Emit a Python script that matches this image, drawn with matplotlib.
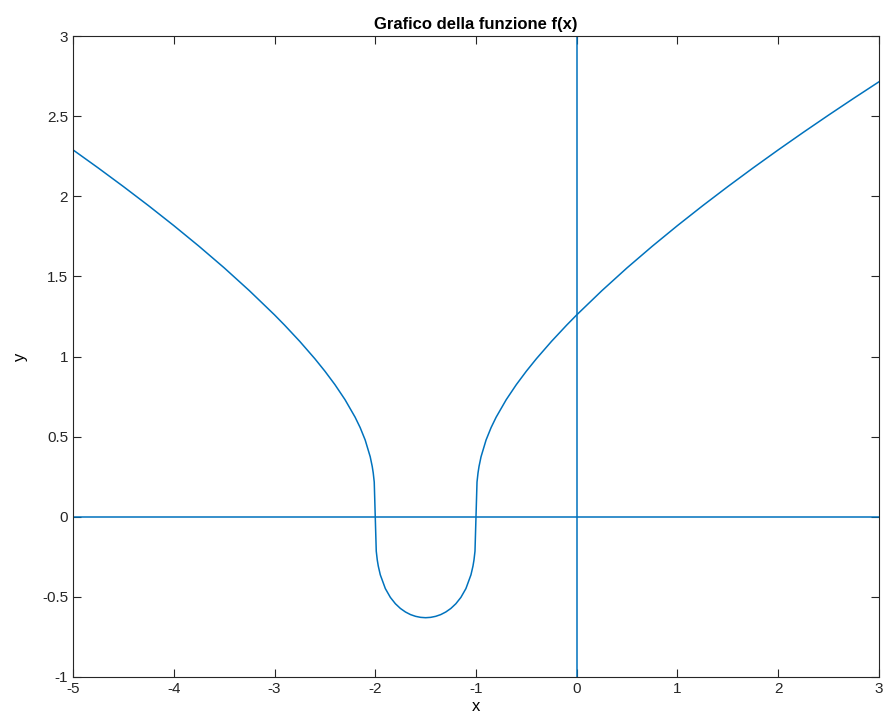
import matplotlib.pyplot as plt

plt.rcParams["font.family"] = ["Liberation Sans", "DejaVu Sans"]
plt.rcParams["axes.unicode_minus"] = False

# points
x_vals = [-5, -4.75, -4.5, -4.25, -4, -3.75, -3.5, -3.25, -3, -2.9, -2.75, -2.6, -2.5,
          -2.4, -2.3, -2.2, -2.15, -2.1, -2.05, -2.03, -2.02, -2.01, -1.99, -1.98, -1.97,
          -1.95, -1.9, -1.85, -1.8, -1.75, -1.7, -1.65, -1.6, -1.55, -1.5, -1.45, -1.4,
          -1.35, -1.3, -1.25, -1.2, -1.15, -1.1, -1.05, -1.03, -1.02, -1.01, -0.99, -0.98,
          -0.97, -0.95, -0.9, -0.85, -0.8, -0.7, -0.6, -0.5, -0.4, -0.25, -0.1, 0, 0.25,
          0.5, 0.75, 1, 1.25, 1.5, 1.75, 2, 2.25, 2.5, 2.75, 3]
y_vals = [2.2894, 2.1767, 2.0606, 1.9410, 1.8171, 1.6883, 1.5536, 1.4111, 1.2599, 1.1958,
          1.0949, 0.9865, 0.9086, 0.8243, 0.7306, 0.6214, 0.5567, 0.4791, 0.3744, 0.3138,
          0.2733, 0.2162, -0.2147, -0.2696, -0.3076, -0.3622, -0.4481, -0.5032, -0.5429,
          -0.5724, -0.5944, -0.6106, -0.6214, -0.6278, -0.6300, -0.6278, -0.6214, -0.6106,
          -0.5944, -0.5724, -0.5429, -0.5032, -0.4481, -0.3622, -0.3076, -0.2696, -0.2147,
          0.2162, 0.2733, 0.3138, 0.3744, 0.4791, 0.5567, 0.6214, 0.7306, 0.8243, 0.9086,
          0.9865, 1.0949, 1.1958, 1.2599, 1.4111, 1.5536, 1.6883, 1.8171, 1.9410, 2.0606,
          2.1767, 2.2894, 2.3993, 2.5066, 2.6116, 2.7144]

x_ticks = [-5, -4, -3, -2, -1, 0, 1, 2, 3]
y_ticks = [-1, -0.5, 0, 0.5, 1, 1.5, 2, 2.5, 3]
y_tick_labels = ["-1", "-0.5", "0", "0.5", "1", "1.5", "2", "2.5", "3"]

blue = "#0072BD"

fig = plt.figure(figsize=(8.87, 7.25), dpi=100)
ax = fig.add_axes([73 / 887, 48 / 725, 806 / 887, 641 / 725])

ax.plot(x_vals, y_vals, color=blue, linewidth=1.1)
ax.axhline(0, color=blue, linewidth=1.1)
ax.axvline(0, color=blue, linewidth=1.1)

ax.set_xlim(-5, 3)
ax.set_ylim(-1, 3)
ax.set_xticks(x_ticks)
ax.set_yticks(y_ticks)
ax.set_yticklabels(y_tick_labels)
ax.tick_params(direction="in", top=True, right=True, length=6, width=0.8,
               labelsize=11, colors="#262626")
for spine in ax.spines.values():
    spine.set_linewidth(0.8)
    spine.set_color("#262626")

ax.set_xlabel("x", fontsize=12, labelpad=2)
ax.set_ylabel("y", fontsize=12, labelpad=10)
ax.set_title("Grafico della funzione f(x)", fontsize=12, fontweight="bold", pad=5)

fig.savefig("out.png", dpi=100)
